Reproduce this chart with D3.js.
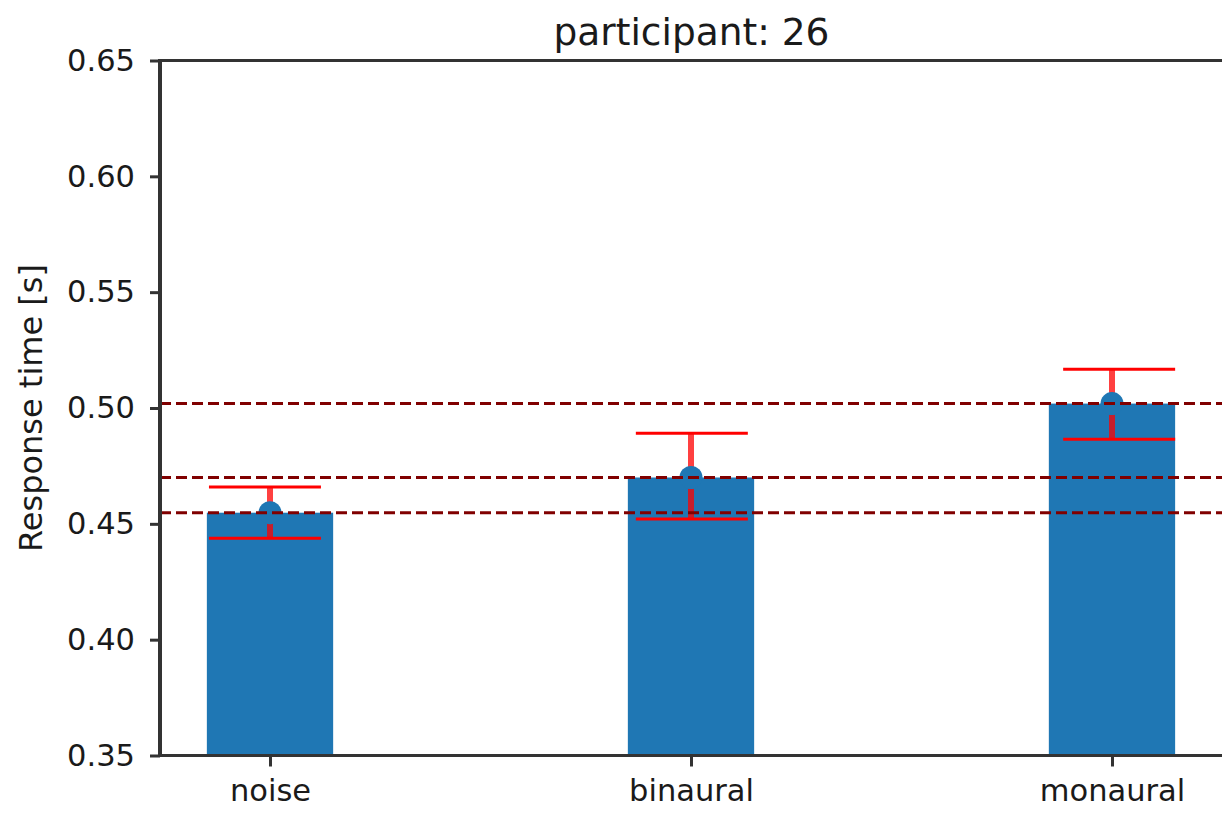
<!DOCTYPE html>
<html>
<head>
<meta charset="utf-8">
<script src="https://cdnjs.cloudflare.com/ajax/libs/d3/7.8.5/d3.min.js"></script>
<style>
  body { margin: 0; background: #fff; }
  svg { display: block; font-family: "DejaVu Sans", sans-serif; }
</style>
</head>
<body>
<svg width="1222" height="813"></svg>
<script>
// data
const conditions = ["noise", "binaural", "monaural"]
const meanRT = [0.4548, 0.4700, 0.5019]
const ciLow = [0.4438, 0.4521, 0.4865]
const ciHigh = [0.4659, 0.4891, 0.5167]
const capPos = [-0.012, 1.002, 2.017]   // caps sit slightly off the bar centres
const yTicks = [0.35, 0.40, 0.45, 0.50, 0.55, 0.60, 0.65]
const titleText = "participant: 26"
const yLabel = "Response time [s]"

const margin = { top: 60.5, right: -1, bottom: 57.5, left: 160 }
const W = 1222, H = 813
const w = W - margin.left - margin.right
const h = H - margin.top - margin.bottom

const svg = d3.select("svg")
const g = svg.append("g").attr("transform", `translate(${margin.left}, ${margin.top})`)

const xscale = d3.scaleLinear().domain([-0.2613, 2.2637]).range([0, w])
const yscale = d3.scaleLinear().domain([0.35, 0.65]).range([h, 0])
const barW = 0.3, capHalf = 0.133

// bars
g.selectAll("rect.bar")
    .data(meanRT)
    .enter().append("rect")
    .attr("class", "bar")
    .attr("x", (d, i) => xscale(i - barW / 2))
    .attr("width", xscale(barW) - xscale(0))
    .attr("y", d => yscale(d))
    .attr("height", d => h - yscale(d))
    .attr("fill", "#1f77b4")

// error bar stems
g.selectAll("line.stem")
    .data(meanRT)
    .enter().append("line")
    .attr("x1", (d, i) => xscale(i)).attr("x2", (d, i) => xscale(i))
    .attr("y1", (d, i) => yscale(ciHigh[i])).attr("y2", (d, i) => yscale(ciLow[i]))
    .attr("stroke", "red").attr("stroke-opacity", 0.75).attr("stroke-width", 6)

// caps
const caps = [...ciLow.map((v, i) => [i, v]), ...ciHigh.map((v, i) => [i, v])]
g.selectAll("line.cap")
    .data(caps)
    .enter().append("line")
    .attr("x1", d => xscale(capPos[d[0]] - capHalf))
    .attr("x2", d => xscale(capPos[d[0]] + capHalf))
    .attr("y1", d => yscale(d[1])).attr("y2", d => yscale(d[1]))
    .attr("stroke", "red").attr("stroke-width", 3)

// mean markers
g.selectAll("circle.pt")
    .data(meanRT)
    .enter().append("circle")
    .attr("cx", (d, i) => xscale(i))
    .attr("cy", d => yscale(d))
    .attr("r", 11.5)
    .attr("fill", "#1f77b4")

// horizontal dashed mean lines
g.selectAll("line.mean")
    .data(meanRT)
    .enter().append("line")
    .attr("x1", 0).attr("x2", w)
    .attr("y1", d => yscale(d)).attr("y2", d => yscale(d))
    .attr("stroke", "#800000").attr("stroke-width", 3)
    .attr("stroke-dasharray", "11,5")

// axes
const axisY = d3.axisLeft(yscale).tickValues(yTicks).tickFormat(d3.format(".2f")).tickSize(10).tickPadding(15)
const axisX = d3.axisBottom(xscale).tickValues([0, 1, 2]).tickFormat(i => conditions[i]).tickSize(11).tickPadding(15)

const gy = g.append("g").call(axisY)
const gx = g.append("g").attr("transform", `translate(0, ${h})`).call(axisX)

;[gx, gy].forEach(a => {
    a.select(".domain").remove()
    a.selectAll(".tick line").attr("stroke", "#333").attr("stroke-width", 3)
    a.selectAll(".tick text").attr("fill", "#1a1a1a").style("font-size", "30.5px").style("font-family", "DejaVu Sans")
})
gx.selectAll(".tick text").attr("dy", "0.71em").attr("y", 24)

// spines
g.append("line").attr("x1", 0).attr("x2", 0).attr("y1", -1.5).attr("y2", h + 1.5)
    .attr("stroke", "#333").attr("stroke-width", 4)
g.append("line").attr("x1", -2).attr("x2", w).attr("y1", 0).attr("y2", 0)
    .attr("stroke", "#333").attr("stroke-width", 3)
g.append("line").attr("x1", -2).attr("x2", w).attr("y1", h).attr("y2", h)
    .attr("stroke", "#333").attr("stroke-width", 3)

// title and label
svg.append("text")
    .attr("x", margin.left + w / 2).attr("y", 45)
    .attr("text-anchor", "middle")
    .attr("fill", "#1a1a1a")
    .style("font-size", "37.5px")
    .text(titleText)

svg.append("text")
    .attr("transform", `translate(42, ${margin.top + h / 2}) rotate(-90)`)
    .attr("text-anchor", "middle")
    .attr("fill", "#1a1a1a")
    .style("font-size", "32px")
    .text(yLabel)
</script>
</body>
</html>
